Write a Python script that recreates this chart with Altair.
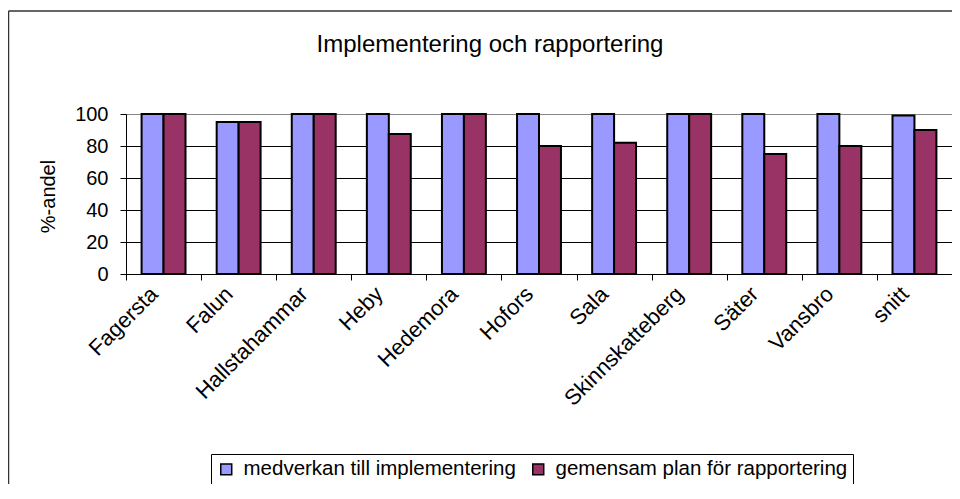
import altair as alt
import pandas as pd

categories = ["Fagersta", "Falun", "Hallstahammar", "Heby", "Hedemora", "Hofors",
              "Sala", "Skinnskatteberg", "Säter", "Vansbro", "snitt"]
series = ["medverkan till implementering", "gemensam plan för rapportering"]
medverkan = [100, 95, 100, 100, 100, 100, 100, 100, 100, 100, 99]
plan = [100, 95, 100, 87.5, 100, 80, 82, 100, 75, 80, 90]
colors = ["#9999FF", "#993366"]
y_ticks = [0, 20, 40, 60, 80, 100]

rows = []
for c, a, b in zip(categories, medverkan, plan):
    rows.append({"kommun": c, "serie": series[0], "andel": a})
    rows.append({"kommun": c, "serie": series[1], "andel": b})
df = pd.DataFrame(rows)

FONT = "Liberation Sans"

one = pd.DataFrame({"f": [0]})
frame_top = alt.Chart(one).mark_rule(stroke="#333333", strokeWidth=1.5).encode(
    x=alt.value(-117.5), x2=alt.value(900), y=alt.value(-103)
)
frame_left = alt.Chart(one).mark_rule(stroke="#333333", strokeWidth=1.5).encode(
    x=alt.value(-117.5), y=alt.value(-103), y2=alt.value(600)
)

bars = alt.Chart(df).mark_bar(stroke="black", strokeWidth=2).encode(
    x=alt.X(
        "kommun:N", sort=categories,
        scale=alt.Scale(paddingInner=0, paddingOuter=0),
        axis=alt.Axis(
            title=None, labelAngle=315, labelAlign="right", labelBaseline="top",
            labelFontSize=22, labelFont=FONT, labelColor="black", labelPadding=3,
            labelOffset=-17, tickBand="extent", tickSize=6, tickColor="black",
            domainColor="black", grid=False, labelLimit=400, labelOverlap=False,
        ),
    ),
    xOffset=alt.XOffset("serie:N", sort=series,
                        scale=alt.Scale(paddingInner=0, paddingOuter=0.71)),
    y=alt.Y(
        "andel:Q", scale=alt.Scale(domain=[0, 100]),
        axis=alt.Axis(
            title="%-andel", values=y_ticks, labelFontSize=20, labelFont=FONT,
            labelColor="black", labelPadding=12, tickSize=6, tickColor="black",
            domainColor="black",
            gridColor={"condition": {"test": "datum.value === 100", "value": "#888888"},
                       "value": "black"},
            titleFont=FONT, titleFontSize=20, titleFontWeight="normal",
            titleColor="black", titleAngle=270, titleAlign="center",
            titleBaseline="middle", titleX=-77.5, titleY=82,
        ),
    ),
    color=alt.Color(
        "serie:N", sort=series,
        scale=alt.Scale(domain=series, range=colors),
        legend=alt.Legend(
            title=None, orient="none", legendX=85, legendY=340,
            direction="horizontal", columns=2, columnPadding=12,
            strokeColor="black", fillColor="white", padding=5,
            labelFontSize=20.5, labelFont=FONT, labelColor="black", labelOffset=7,
            symbolType="square", symbolSize=120, symbolStrokeColor="black",
            symbolStrokeWidth=1.5, symbolOpacity=1, labelLimit=500,
        ),
    ),
)

chart = alt.layer(frame_top, frame_left, bars).properties(
    width=826,
    height=160,
    title=alt.TitleParams(
        "Implementering och rapportering", fontSize=24, font=FONT,
        fontWeight="normal", anchor="middle", frame="group", dx=-49,
        offset=0, dy=65.5, baseline="alphabetic", color="black",
    ),
    autosize=alt.AutoSizeParams(type="none"),
    padding={"left": 118, "top": 106, "right": 0, "bottom": 210},
).configure(background="white").configure_view(stroke="#888888", strokeWidth=1)

chart.save("out.html", embed_options={"renderer": "svg", "actions": False})
